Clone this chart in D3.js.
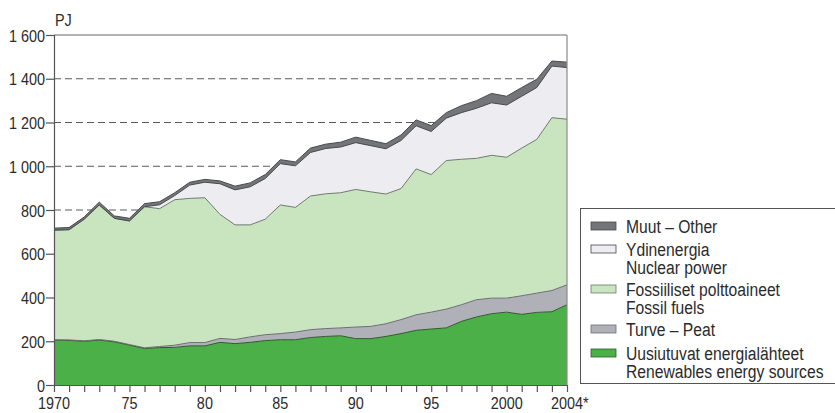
<!DOCTYPE html>
<html><head><meta charset="utf-8">
<script src="https://cdn.jsdelivr.net/npm/d3@7/dist/d3.min.js"></script>
<style>
body{margin:0;background:#fff;}
svg{display:block;font-family:"Liberation Sans",Arial,sans-serif;}
</style></head><body>
<svg id="chart" width="835" height="413"></svg>
<script>
const years = d3.range(1970, 2005);
const renewables = [205,204,200,205,197,182,167,171,172,179,179,195,189,195,203,207,207,217,222,225,212,212,222,235,250,256,261,291,311,326,333,323,332,335,367];
const peat       = [2,2,2,3,3,3,3,5,10,15,15,18,19,25,27,28,35,36,36,36,53,56,58,64,71,77,86,76,79,71,64,85,88,97,91];
const fossil     = [501,504,556,615,562,565,645,630,665,659,662,567,524,512,528,588,570,611,616,618,629,615,593,599,667,629,679,665,646,653,644,675,703,790,757];
const nuclear    = [0,0,0,0,0,0,0,18,19,61,71,140,160,174,186,189,190,199,207,209,214,211,207,220,197,197,194,213,229,240,239,237,237,236,236];
const other      = [9,10,10,13,11,12,14,14,13,13,13,13,17,18,18,18,18,20,20,22,25,24,23,25,27,27,25,32,35,43,40,40,38,23,25];

const yTicks = [0,200,400,600,800,1000,1200,1400,1600];
const yTickLabels = ["0","200","400","600","800","1 000","1 200","1 400","1 600"];
const xLabelYears = [1970,1975,1980,1985,1990,1995,2000,2004];
const xLabels = ["1970","75","80","85","90","95","2000","2004*"];
const unitLabel = "PJ";

const seriesKeys = ["renewables","peat","fossil","nuclear","other"];
const legendItems = [
  {key:"other", lines:["Muut \u2013 Other"]},
  {key:"nuclear", lines:["Ydinenergia","Nuclear power"]},
  {key:"fossil", lines:["Fossiiliset polttoaineet","Fossil fuels"]},
  {key:"peat", lines:["Turve \u2013 Peat"]},
  {key:"renewables", lines:["Uusiutuvat energialähteet","Renewables energy sources"]}
];
const fills = {renewables:"#4cb049", peat:"#b0b1b8", fossil:"#c8e5c0", nuclear:"#ececf1", other:"#747578"};
const edges = {renewables:"#2f5a2d", peat:"#6d6e72", fossil:"#6f7a6d", nuclear:"#48494c", other:"#48494c"};

const table = years.map((y,i)=>({year:y, renewables:renewables[i], peat:peat[i], fossil:fossil[i], nuclear:nuclear[i], other:other[i]}));

const svg = d3.select("#chart");
const m = {left:54, right:567, top:35, bottom:385};
const x = d3.scaleLinear().domain([1970,2004]).range([m.left, m.right]);
const y = d3.scaleLinear().domain([0,1600]).range([m.bottom, m.top]);
const textColor = "#2b2b2b";

function condense(sel, sx){
  sel.each(function(){
    const t = d3.select(this);
    const tx = +t.attr("x") || 0, ty = +t.attr("y") || 0;
    t.attr("transform", `translate(${tx},${ty}) scale(${sx},1)`).attr("x",0).attr("y",0);
  });
}

// gridlines
svg.append("g").selectAll("line").data(yTicks.filter(t=>t>0 && t<1600)).join("line")
  .attr("x1", m.left).attr("x2", m.right).attr("y1", d=>y(d)).attr("y2", d=>y(d))
  .attr("stroke","#5a5a5a").attr("stroke-width",1).attr("stroke-dasharray","7,4");

const stack = d3.stack().keys(seriesKeys);
const layers = stack(table);
const area = d3.area().x(d=>x(d.data.year)).y0(d=>y(d[0])).y1(d=>y(d[1]));
const line = d3.line().x(d=>x(d.data.year)).y(d=>y(d[1]));

svg.append("g").selectAll("path").data(layers).join("path")
  .attr("d", area).attr("fill", d=>fills[d.key]);
svg.append("g").selectAll("path").data(layers).join("path")
  .attr("d", line).attr("fill","none").attr("stroke", d=>edges[d.key]).attr("stroke-width",1);

// frame
svg.append("line").attr("x1",m.left).attr("x2",m.right).attr("y1",y(1600)).attr("y2",y(1600)).attr("stroke","#6a6a6a").attr("stroke-width",1.2);
svg.append("line").attr("x1",m.right).attr("x2",m.right).attr("y1",y(1600)).attr("y2",y(0)).attr("stroke","#8a8a8a").attr("stroke-width",1.2);

// y axis
const yAxis = d3.axisLeft(y).tickValues(yTicks).tickFormat((d,i)=>yTickLabels[i]).tickSize(8).tickPadding(1);
const gy = svg.append("g").attr("transform",`translate(${m.left},0)`).call(yAxis);
gy.select(".domain").attr("stroke","#555").attr("stroke-width",1.2);
gy.selectAll(".tick line").attr("stroke","#555").attr("stroke-width",1.2);
gy.selectAll(".tick text").attr("font-size",16).attr("fill",textColor).attr("font-family",null)
  .attr("dy",null).attr("y",6);
condense(gy.selectAll(".tick text"), 0.9);

// x axis
const xAxis = d3.axisBottom(x).tickValues(years).tickFormat("").tickSize(7).tickSizeOuter(0);
const gx = svg.append("g").attr("transform",`translate(0,${m.bottom})`).call(xAxis);
gx.select(".domain").attr("stroke","#555").attr("stroke-width",1.2);
gx.selectAll(".tick line").attr("stroke","#555").attr("stroke-width",1.2);

const sxAxis = 0.9;
const xl = svg.append("g").selectAll("text").data(xLabelYears).join("text")
  .attr("x", d=>x(d)).attr("y", 409).attr("font-size",16).attr("fill",textColor)
  .attr("text-anchor","middle").text((d,i)=>xLabels[i]);
xl.each(function(d,i){
  const lab = xLabels[i];
  if(lab.endsWith("*")){
    const t = d3.select(this);
    t.attr("text-anchor","start").text(lab.slice(0,-1));
    const w = this.getComputedTextLength()*sxAxis;
    t.attr("x", x(d)-w/2).text(lab);
  }
});
condense(xl, sxAxis);

const pj = svg.append("text").attr("x",m.left+1).attr("y",26).attr("font-size",16).attr("fill",textColor).text(unitLabel);
condense(pj, 0.9);

// legend
const lg = svg.append("g");
lg.append("rect").attr("x",580.5).attr("y",208.5).attr("width",270).attr("height",175)
  .attr("fill","#fff").attr("stroke","#555").attr("stroke-width",1);
const rowY = [226, 249, 289, 329, 353];
const lineH = 18.5;
legendItems.forEach((it,i)=>{
  const cy = rowY[i];
  lg.append("rect").attr("x",591).attr("y",cy-4).attr("width",25).attr("height",8)
    .attr("fill",fills[it.key]).attr("stroke",edges[it.key]).attr("stroke-width",0.8);
  it.lines.forEach((ln,j)=>{
    const t = lg.append("text").attr("x",626).attr("y",cy+j*lineH+6.5).attr("font-size",18).attr("fill",textColor).text(ln);
    condense(t, 0.87);
  });
});
</script>
</body></html>
